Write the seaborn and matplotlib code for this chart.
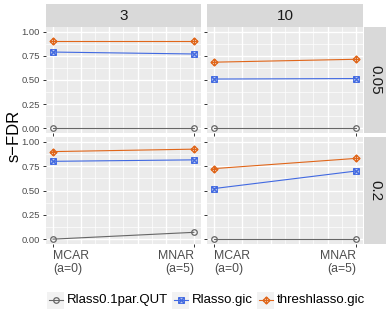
import matplotlib
matplotlib.use("Agg")
import matplotlib.pyplot as plt
import numpy as np
import pandas as pd
import seaborn as sns
from matplotlib.path import Path
from matplotlib.lines import Line2D
from matplotlib.patches import Rectangle

# data
mechanisms = [0, 5]
mech_labels = ["MCAR\n(a=0)", "MNAR\n(a=5)"]
methods = ["Rlass0.1par.QUT", "Rlasso.gic", "threshlasso.gic"]
p_levels = [3, 10]
alpha_levels = [0.05, 0.2]

qut_3_005 = [0.0, 0.0]
gic_3_005 = [0.79, 0.77]
thr_3_005 = [0.90, 0.90]
qut_10_005 = [0.005, 0.005]
gic_10_005 = [0.51, 0.515]
thr_10_005 = [0.685, 0.715]
qut_3_02 = [0.0, 0.07]
gic_3_02 = [0.80, 0.815]
thr_3_02 = [0.90, 0.925]
qut_10_02 = [0.0, 0.0]
gic_10_02 = [0.52, 0.70]
thr_10_02 = [0.725, 0.83]

panels = {
    (3, 0.05): [qut_3_005, gic_3_005, thr_3_005],
    (10, 0.05): [qut_10_005, gic_10_005, thr_10_005],
    (3, 0.2): [qut_3_02, gic_3_02, thr_3_02],
    (10, 0.2): [qut_10_02, gic_10_02, thr_10_02],
}
rows = []
for (p, a), series in panels.items():
    for m, vals in zip(methods, series):
        for x, v in zip(mechanisms, vals):
            rows.append({"p": p, "alpha": a, "method": m, "mech": x, "sfdr": v})
df = pd.DataFrame(rows)

colors = {"Rlass0.1par.QUT": "#666666", "Rlasso.gic": "#4169E1", "threshlasso.gic": "#E0661A"}

sq_cross = Path(
    [(-1, -1), (1, -1), (1, 1), (-1, 1), (-1, -1), (-1, -1), (1, 1), (-1, 1), (1, -1)],
    [Path.MOVETO, Path.LINETO, Path.LINETO, Path.LINETO, Path.CLOSEPOLY,
     Path.MOVETO, Path.LINETO, Path.MOVETO, Path.LINETO],
)
dia_plus = Path(
    [(0, -1), (1, 0), (0, 1), (-1, 0), (0, -1), (-1, 0), (1, 0), (0, -1), (0, 1)],
    [Path.MOVETO, Path.LINETO, Path.LINETO, Path.LINETO, Path.CLOSEPOLY,
     Path.MOVETO, Path.LINETO, Path.MOVETO, Path.LINETO],
)
markers = {"Rlass0.1par.QUT": "o", "Rlasso.gic": sq_cross, "threshlasso.gic": dia_plus}
msizes = {"Rlass0.1par.QUT": 4.0, "Rlasso.gic": 4.0, "threshlasso.gic": 5.0}

plt.rcParams["font.family"] = ["Liberation Sans", "DejaVu Sans"]

W, H = 390, 321
fig = plt.figure(figsize=(W / 100, H / 100), dpi=100)


def fbox(x0, y0, x1, y1):
    return [x0 / W, 1 - y1 / H, (x1 - x0) / W, (y1 - y0) / H]


col_x = [(46, 201), (207, 363)]
row_y = [(27, 133), (137, 244)]

for ri, a in enumerate(alpha_levels):
    for ci, p in enumerate(p_levels):
        ax = fig.add_axes(fbox(col_x[ci][0], row_y[ri][0], col_x[ci][1], row_y[ri][1]))
        ax.set_facecolor("#EBEBEB")
        for s in ax.spines.values():
            s.set_visible(False)
        for gx in np.arange(0.5, 5, 1.0):
            ax.axvline(gx, color="white", lw=0.5, zorder=0)
        for gy in np.arange(0.125, 1.0, 0.25):
            ax.axhline(gy, color="white", lw=0.5, zorder=0)
        for gx in range(0, 6):
            ax.axvline(gx, color="white", lw=1.0, zorder=0)
        for gy in [0, 0.25, 0.5, 0.75, 1.0]:
            ax.axhline(gy, color="white", lw=1.0, zorder=0)
        sub = df[(df.p == p) & (df.alpha == a)]
        for m in methods:
            d = sub[sub.method == m]
            sns.lineplot(data=d, x="mech", y="sfdr", ax=ax, color=colors[m], lw=0.8,
                         marker=markers[m], ms=msizes[m], mfc="none", mec=colors[m],
                         mew=0.9, legend=False)
        ax.set_xlim(-0.25, 5.25)
        ax.set_ylim(-0.05, 1.05)
        ax.set_xlabel("")
        ax.set_ylabel("")
        ax.set_xticks(mechanisms)
        ax.set_yticks([0, 0.25, 0.5, 0.75, 1.0])
        ax.tick_params(length=2.5, width=0.7, color="#333333", pad=2)
        if ci == 0:
            ax.set_yticklabels(["0.00", "0.25", "0.50", "0.75", "1.00"],
                               fontsize=6.8, color="#4D4D4D")
        else:
            ax.set_yticklabels([])
        if ri == 1:
            labs = ax.set_xticklabels(mech_labels, fontsize=8.8, color="#4D4D4D",
                                      linespacing=1.1)
            labs[0].set_ha("left")
            labs[0].set_multialignment("left")
            labs[1].set_ha("right")
            labs[1].set_multialignment("right")
        else:
            ax.set_xticklabels([])

# strips
for ci, p in enumerate(p_levels):
    sax = fig.add_axes(fbox(col_x[ci][0], 4, col_x[ci][1], 27))
    sax.set_facecolor("#D9D9D9")
    sax.set_xticks([])
    sax.set_yticks([])
    for s in sax.spines.values():
        s.set_visible(False)
    sax.text(0.5, 0.5, str(p), ha="center", va="center", fontsize=11, color="#1A1A1A",
             transform=sax.transAxes)
for ri, a in enumerate(alpha_levels):
    sax = fig.add_axes(fbox(364, row_y[ri][0], 386, row_y[ri][1]))
    sax.set_facecolor("#D9D9D9")
    sax.set_xticks([])
    sax.set_yticks([])
    for s in sax.spines.values():
        s.set_visible(False)
    sax.text(0.5, 0.5, str(a), ha="center", va="center", fontsize=11, color="#1A1A1A",
             rotation=-90, transform=sax.transAxes)

fig.text(14 / W, 1 - 135.5 / H, "s\u2212FDR", rotation=90, ha="center", va="center",
         fontsize=12, color="black")

# legend
key_x = [47, 172, 257]
ly = 300
for kx, m in zip(key_x, methods):
    fig.add_artist(Rectangle(((kx) / W, 1 - (ly + 8.5) / H), 17 / W, 17 / H,
                             transform=fig.transFigure, facecolor="#F2F2F2",
                             edgecolor="none"))
    fig.add_artist(Line2D([(kx + 1.5) / W, (kx + 15.5) / W], [1 - ly / H, 1 - ly / H],
                          transform=fig.transFigure, color=colors[m], lw=0.8))
    fig.add_artist(Line2D([(kx + 8.5) / W], [1 - ly / H], transform=fig.transFigure,
                          marker=markers[m], ms=msizes[m], mfc="none", mec=colors[m],
                          mew=0.9, lw=0))
    fig.text((kx + 20) / W, 1 - ly / H, m, ha="left", va="center", fontsize=9.5,
             color="black")

fig.savefig("out.png", dpi=100)
